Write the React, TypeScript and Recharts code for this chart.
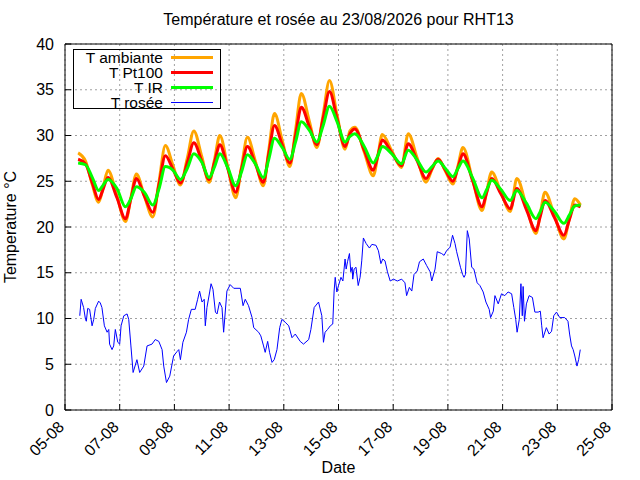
import React from "react";
import { LineChart, Line, XAxis, YAxis, CartesianGrid, Legend, Label } from "recharts";

// time in days since 05-08 00:00
const tempTimes = [
    0.48, 0.75, 1.0, 1.23, 1.4, 1.57, 1.9, 2.21, 2.41, 2.61, 2.9, 3.21, 3.44, 3.67, 3.95, 4.22, 4.47, 4.71,
    5.0, 5.27, 5.47, 5.66, 5.95, 6.24, 6.45, 6.67, 6.96, 7.25, 7.45, 7.66, 7.94, 8.22, 8.43, 8.64, 8.93, 9.21,
    9.44, 9.67, 9.95, 10.24, 10.42, 10.6, 10.94, 11.27, 11.44, 11.6, 11.95, 12.3, 12.55, 12.88, 13.2, 13.42,
    13.64, 13.91, 14.18, 14.37, 14.55, 14.9, 15.25, 15.42, 15.6, 15.94, 16.28, 16.52, 16.87, 17.22, 17.38,
    17.55, 17.9, 18.24, 18.44, 18.64, 18.85
];
const ambiante = [
    28.1, 27.2, 24.6, 22.7, 24.4, 26.2, 23.4, 20.6, 23.2, 25.8, 23.4, 21.1, 25.0, 28.9, 26.7, 24.6, 27.5, 30.5,
    27.7, 24.9, 27.4, 30.0, 26.6, 23.2, 26.5, 29.8, 27.2, 24.5, 28.4, 32.4, 29.5, 26.6, 30.6, 34.6, 31.6, 28.7,
    32.3, 36.0, 32.2, 28.5, 30.5, 30.9, 28.2, 25.6, 27.8, 30.1, 28.3, 26.5, 30.2, 27.5, 24.9, 26.3,
    27.5, 26.1, 24.7, 26.7, 28.7, 25.2, 21.8, 23.9, 26.0, 23.8, 21.7, 25.3, 22.3, 19.3, 21.5,
    23.8, 21.2, 18.7, 20.9, 23.1, 22.4
];
const pt100 = [
    27.4, 26.9, 24.8, 23.0, 24.2, 25.4, 23.2, 20.9, 23.1, 25.3, 23.4, 21.6, 24.7, 27.8, 26.3, 24.8, 27.0, 29.2,
    27.2, 25.2, 27.1, 29.0, 26.4, 23.8, 26.3, 28.8, 26.9, 24.9, 28.0, 31.1, 29.0, 27.0, 30.0, 33.1, 31.0, 29.0,
    31.9, 34.8, 31.8, 28.8, 30.2, 30.7, 28.4, 26.2, 27.8, 29.5, 28.1, 26.7, 29.1, 27.2, 25.3, 26.4,
    27.4, 26.2, 25.0, 26.5, 28.0, 25.1, 22.2, 23.8, 25.3, 23.6, 22.0, 24.2, 21.9, 19.6, 21.2,
    22.9, 21.0, 19.1, 20.8, 22.4, 22.2
];
const tIR = [
    27.0, 26.8, 25.4, 24.0, 24.6, 25.2, 24.2, 22.2, 23.1, 24.4, 23.8, 22.4, 24.2, 26.6, 26.2, 25.2, 26.4, 28.0,
    27.1, 25.4, 26.6, 28.0, 26.5, 24.5, 26.0, 27.9, 26.9, 25.4, 27.4, 29.7, 28.7, 27.4, 29.3, 31.5, 30.6, 29.3,
    31.1, 33.2, 31.5, 29.3, 29.9, 30.2, 28.8, 27.0, 27.8, 28.8, 28.0, 26.9, 28.4, 27.3, 26.0, 26.6,
    27.2, 26.4, 25.5, 26.4, 27.2, 25.4, 23.2, 24.1, 25.1, 24.1, 22.9, 24.0, 22.6, 20.9, 21.7,
    22.7, 21.7, 20.4, 21.3, 22.3, 22.4
];

const roseeTimes = [
    0.54, 0.59, 0.68, 0.75, 0.78, 0.83, 0.9, 0.99, 1.05, 1.11, 1.23, 1.29, 1.35, 1.44, 1.54, 1.6, 1.63, 1.72,
    1.78, 1.84, 1.93, 2.0, 2.05, 2.15, 2.27, 2.33, 2.41, 2.49, 2.63, 2.73, 2.88, 3.0, 3.18, 3.3, 3.43, 3.55,
    3.61, 3.71, 3.83, 3.97, 4.1, 4.16, 4.22, 4.31, 4.44, 4.52, 4.62, 4.76, 4.85, 4.92, 5.01, 5.09, 5.13, 5.19,
    5.29, 5.34, 5.41, 5.5, 5.56, 5.65, 5.74, 5.8, 5.92, 6.04, 6.17, 6.41, 6.51, 6.59, 6.71, 6.84, 6.9, 7.08,
    7.16, 7.26, 7.32, 7.41, 7.48, 7.57, 7.65, 7.75, 7.85, 7.93, 8.05, 8.18, 8.3, 8.42, 8.6, 8.72, 8.91, 8.99,
    9.11, 9.27, 9.39, 9.45, 9.51, 9.6, 9.7, 9.79, 9.84, 9.88, 9.94, 10.0, 10.09, 10.16, 10.24, 10.28, 10.33,
    10.4, 10.45, 10.5, 10.52, 10.57, 10.64, 10.72, 10.79, 10.85, 10.91, 11.01, 11.13, 11.22, 11.37, 11.46,
    11.55, 11.62, 11.7, 11.79, 11.89, 12.01, 12.15, 12.31, 12.43, 12.49, 12.59, 12.68, 12.76, 12.88, 12.96,
    13.1, 13.22, 13.35, 13.41, 13.53, 13.61, 13.77, 13.86, 13.95, 14.08, 14.17, 14.26, 14.32, 14.46, 14.54,
    14.59, 14.64, 14.71, 14.78, 14.87, 14.95, 15.07, 15.17, 15.29, 15.39, 15.51, 15.56, 15.66, 15.72, 15.84,
    15.96, 16.08, 16.2, 16.33, 16.41, 16.48, 16.53, 16.61, 16.67, 16.72, 16.75, 16.8, 16.87, 16.97, 17.09,
    17.18, 17.3, 17.38, 17.43, 17.48, 17.6, 17.7, 17.79, 17.87, 17.97, 18.09, 18.27, 18.39, 18.45, 18.52,
    18.58, 18.64, 18.72, 18.78, 18.84
];
const rosee = [
    10.3, 12.1, 11.2, 9.9, 9.7, 11.1, 11.0, 9.2, 9.9, 11.1, 11.9, 11.7, 11.2, 9.2, 8.5, 8.8, 7.2, 6.6,
    7.0, 8.8, 7.4, 7.2, 9.2, 10.3, 10.5, 9.9, 7.0, 4.1, 5.5, 4.1, 4.8, 7.0, 7.2, 7.7, 7.5, 6.6,
    4.8, 3.0, 3.7, 5.9, 6.4, 6.6, 5.5, 7.4, 8.5, 9.9, 11.0, 11.0, 12.1, 13.0, 11.8, 12.1, 9.2, 11.2,
    12.9, 13.8, 13.2, 10.7, 10.5, 11.8, 11.2, 8.5, 13.0, 13.7, 13.3, 13.3, 11.4, 12.1, 11.4, 10.1, 9.0, 8.5,
    8.1, 7.0, 6.3, 7.5, 6.3, 5.2, 5.5, 6.6, 9.0, 9.9, 9.6, 9.2, 7.9, 8.3, 7.5, 7.2, 7.7, 8.8,
    11.2, 11.8, 10.3, 7.4, 8.5, 8.8, 9.2, 9.4, 13.0, 14.5, 12.9, 13.6, 14.5, 14.1, 16.5, 15.4, 16.2,
    17.1, 15.1, 15.6, 14.3, 15.4, 15.6, 13.6, 14.5, 16.3, 18.8, 18.2, 17.7, 18.1, 18.0, 17.4,
    16.0, 16.5, 16.3, 15.1, 14.1, 14.3, 14.1, 14.3, 13.9, 12.5, 13.4, 13.0, 14.8, 15.2, 16.2,
    16.5, 15.8, 15.1, 14.1, 15.4, 17.3, 17.1, 16.9, 17.4, 17.8, 19.1, 18.2, 17.3, 15.6, 14.8,
    14.5, 14.8, 19.6, 18.7, 15.6, 15.4, 13.9, 13.6, 12.9, 11.8, 11.0, 10.1, 10.8, 12.5, 11.6,
    12.7, 12.5, 12.9, 12.7, 11.2, 9.9, 8.5, 9.9, 13.8, 10.3, 13.5, 9.7, 11.6, 12.5, 12.3,
    10.7, 10.7, 10.8, 9.2, 7.9, 9.0, 8.3, 8.6, 10.3, 10.7, 10.1, 10.1, 9.7, 8.3, 7.0,
    6.6, 5.9, 4.8, 5.5, 6.6
];

const xTicks = [0, 2, 4, 6, 8, 10, 12, 14, 16, 18, 20];
const xTickLabels = ["05-08", "07-08", "09-08", "11-08", "13-08", "15-08", "17-08", "19-08", "21-08", "23-08", "25-08"];
const xMinorTicks = Array.from({length: 41}, (_, i) => i / 2);
const yTicks = [0, 5, 10, 15, 20, 25, 30, 35, 40];

const series = [
    {key: "amb", name: "T ambiante", color: "#ffa500", width: 3},
    {key: "pt100", name: "T Pt100", color: "#ff0000", width: 3},
    {key: "ir", name: "T IR", color: "#00ff00", width: 3},
    {key: "rosee", name: "T rosée", color: "#0000ff", width: 1},
];

const tempData = tempTimes.map((t, i) => ({t, amb: ambiante[i], pt100: pt100[i], ir: tIR[i]}));
const roseeData = roseeTimes.map((t, i) => ({t, rosee: rosee[i]}));

const FONT = '"Liberation Sans", Arial, sans-serif';

const DateTick = ({x, y, payload}: any) => {
    const label = xTickLabels[xTicks.indexOf(payload.value)];
    return (
        <text x={x} y={y} textAnchor="end" fontSize={16} fill="#000"
              transform={`rotate(-45 ${x} ${y})`}>{label}</text>
    );
};

const YTitle = (props: any) => {
    const vb = props.viewBox ?? {x: 0, y: 44, width: 65, height: 366};
    const x = vb.x + 16;
    const y = vb.y + vb.height / 2;
    return (
        <text x={x} y={y} textAnchor="middle" fontSize={16} fill="#000"
              transform={`rotate(-90 ${x} ${y})`}>Temperature °C</text>
    );
};

// gnuplot-like key: labels right aligned, line sample on the right
const KeyBox = () => (
    <div style={{position: "relative", width: 148, height: 60, border: "1px solid #000", boxSizing: "border-box", fontFamily: FONT}}>
        {series.map((s, i) => (
            <div key={s.key} style={{position: "absolute", left: 0, top: i * 15, width: 146, height: 15}}>
                <div style={{position: "absolute", right: 57, top: 1, height: 13, lineHeight: "13px", fontSize: 15.5,
                    whiteSpace: "nowrap", color: "#000", overflow: "visible"}}>
                    {s.name}
                </div>
                <svg style={{position: "absolute", left: 97, top: 0}} width={42} height={15}>
                    <line x1={0} x2={42} y1={7.5} y2={7.5} stroke={s.color} strokeWidth={s.width}/>
                </svg>
            </div>
        ))}
    </div>
);

const App = (): JSX.Element => {
    return (
        <div style={{position: "absolute", left: 0, top: 0, width: 640, height: 480, background: "#fff", fontFamily: FONT}}>
            <div style={{position: "absolute", left: 65, top: 11, width: 547, textAlign: "center", fontSize: 16, color: "#000"}}>
                Température et rosée au 23/08/2026 pour RHT13
            </div>
            <LineChart width={640} height={480} data={tempData} margin={{top: 43, right: 27, bottom: 0, left: 0}}>
                <CartesianGrid xAxisId="x" yAxisId="y" stroke="#a0a0a0" strokeDasharray="2 3"/>
                <XAxis xAxisId="x" type="number" dataKey="t" domain={[0, 20]} ticks={xTicks} interval={0}
                       height={70} tickSize={-6} tickMargin={24} tick={<DateTick/>}
                       tickLine={{stroke: "#000"}} axisLine={{stroke: "#000"}}
                       label={{value: "Date", position: "insideBottom", offset: 7, fill: "#000", fontSize: 16}}/>
                <XAxis xAxisId="xm" type="number" domain={[0, 20]} ticks={xMinorTicks} interval={0}
                       orientation="bottom" mirror height={1} tickSize={3} tick={false}
                       tickLine={{stroke: "#000"}} axisLine={false}/>
                <XAxis xAxisId="xt" type="number" domain={[0, 20]} ticks={xTicks} interval={0}
                       orientation="top" height={1} tickSize={-6} tick={false}
                       tickLine={{stroke: "#000"}} axisLine={{stroke: "#000"}}/>
                <XAxis xAxisId="xtm" type="number" domain={[0, 20]} ticks={xMinorTicks} interval={0}
                       orientation="top" mirror height={1} tickSize={3} tick={false}
                       tickLine={{stroke: "#000"}} axisLine={false}/>
                <YAxis yAxisId="y" type="number" domain={[0, 40]} ticks={yTicks} interval={0} width={65}
                       tickSize={-6} tickMargin={17} tick={{fill: "#000", fontSize: 16}}
                       tickLine={{stroke: "#000"}} axisLine={{stroke: "#000"}}>
                    <Label content={<YTitle/>}/>
                </YAxis>
                <YAxis yAxisId="yr" type="number" domain={[0, 40]} ticks={yTicks} interval={0}
                       orientation="right" width={1} tickSize={-6} tick={false}
                       tickLine={{stroke: "#000"}} axisLine={{stroke: "#000"}}/>
                <Legend layout="vertical" align="center" verticalAlign="middle"
                        wrapperStyle={{left: 73, top: 49}} content={<KeyBox/>}/>
                {series.slice(0, 3).map((s) => (
                    <Line key={s.key} xAxisId="x" yAxisId="y" type="monotone" dataKey={s.key} name={s.name}
                          stroke={s.color} strokeWidth={s.width} dot={false} activeDot={false}
                          isAnimationActive={false}/>
                ))}
                <Line xAxisId="x" yAxisId="y" type="linear" data={roseeData} dataKey="rosee" name="T rosée"
                      stroke="#0000ff" strokeWidth={1} dot={false} activeDot={false} isAnimationActive={false}/>
            </LineChart>
        </div>
    );
};

export default App;
